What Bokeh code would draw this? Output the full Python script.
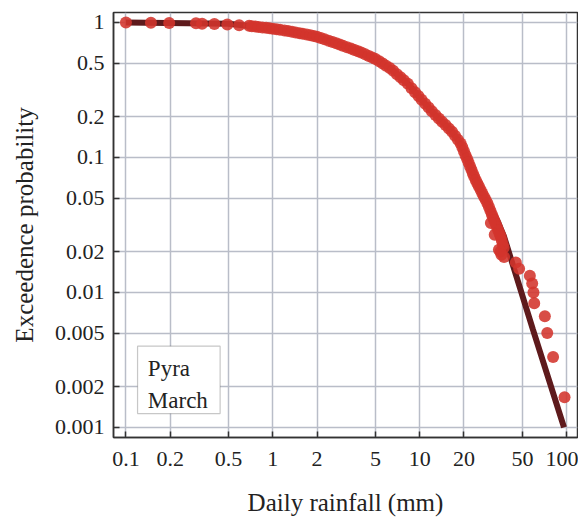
from bokeh.plotting import figure
from bokeh.models import Range1d, FixedTicker, CustomJSTickFormatter, BoxAnnotation, Label
from bokeh.embed import file_html
from bokeh.resources import INLINE

# Empirical exceedance points (daily rainfall mm, exceedance probability)
rain_mm = [0.1, 0.148, 0.197, 0.3, 0.33, 0.4, 0.49, 0.59, 0.69,
           0.72, 0.76, 0.8, 0.85, 0.9, 0.95, 1.0, 1.06, 1.12, 1.2, 1.27, 1.35, 1.43, 1.52,
           1.6, 1.7, 1.8, 1.9, 2.0, 2.12, 2.25, 2.4, 2.55, 2.7, 2.85, 3.0, 3.2, 3.4, 3.6,
           3.8, 4.0, 4.25, 4.5, 4.75, 5.0, 5.3, 5.6, 5.9, 6.25, 6.6, 7.0, 7.4, 7.8, 8.3,
           8.8, 9.3, 9.8, 10.3, 10.9, 11.5, 12.1, 12.8, 13.5, 14.2, 15.0, 15.8, 16.6, 17.4,
           18.2, 19.0, 19.5, 20.0, 20.5, 21.0, 21.5, 22.0, 22.5, 23.0, 23.5, 24.1, 24.7,
           25.3, 26.0, 26.7, 27.4, 28.1, 28.9, 29.6, 30.3, 31.0, 31.6, 32.2, 32.9, 33.6,
           34.3, 35.0, 35.6, 36.2, 36.8, 37.3,
           30.5, 32.4, 34.6, 35.4, 36.0,
           37.5, 45.1, 47.5, 56.2, 58.3, 59.5, 60.2, 71.1, 73.8, 80.9, 96.8]
exceed_p = [0.998, 0.995, 0.99, 0.985, 0.98, 0.975, 0.965, 0.955, 0.945,
            0.939, 0.933, 0.926, 0.919, 0.912, 0.905, 0.899, 0.890, 0.882, 0.872, 0.864,
            0.855, 0.844, 0.833, 0.823, 0.813, 0.803, 0.793, 0.784, 0.767, 0.751, 0.733,
            0.716, 0.700, 0.686, 0.672, 0.656, 0.640, 0.625, 0.611, 0.598, 0.581, 0.565,
            0.551, 0.537, 0.516, 0.496, 0.478, 0.459, 0.438, 0.414, 0.392, 0.373, 0.351,
            0.326, 0.304, 0.285, 0.268, 0.250, 0.234, 0.220, 0.206, 0.194, 0.184, 0.174,
            0.164, 0.155, 0.145, 0.135, 0.127, 0.119, 0.111, 0.104, 0.0977, 0.0917, 0.0860,
            0.0809, 0.0761, 0.0718, 0.0678, 0.0642, 0.0609, 0.0573, 0.0541, 0.0512, 0.0486,
            0.0457, 0.0429, 0.0402, 0.0378, 0.0359, 0.0341, 0.0322, 0.0304, 0.0287, 0.0271,
            0.0259, 0.0242, 0.0226, 0.0214,
            0.0327, 0.0267, 0.0207, 0.0200, 0.0190,
            0.0183, 0.01667, 0.0150, 0.0133, 0.01167, 0.0100, 0.00833, 0.00667, 0.0050,
            0.00333, 0.00167]

# Fitted distribution curve
fit_mm = [0.1, 0.5, 1.0, 2.0, 3.2, 5.0, 6.4, 8.3, 10.0, 12.5, 16.3, 19.0, 21.2, 23.5,
          26.0, 28.9, 33.8, 37.5, 59.0, 96.0]
fit_p = [1.0, 0.978, 0.899, 0.784, 0.656, 0.537, 0.452, 0.351, 0.278, 0.211, 0.159,
         0.127, 0.0953, 0.0718, 0.0573, 0.0457, 0.0340, 0.0259, 0.0053, 0.001]

x_ticks = [0.1, 0.2, 0.5, 1, 2, 5, 10, 20, 50, 100]
y_ticks = [0.001, 0.002, 0.005, 0.01, 0.02, 0.05, 0.1, 0.2, 0.5, 1]

SERIF = "Liberation Serif"
TEXT = "#222222"

p = figure(width=578, height=518, x_axis_type="log", y_axis_type="log",
           x_range=Range1d(0.0823, 118.6), y_range=Range1d(0.000842, 1.185),
           output_backend="svg", toolbar_location=None,
           min_border_left=113, min_border_right=1, min_border_top=12, min_border_bottom=80)

p.background_fill_color = "white"
p.border_fill_color = "white"
p.outline_line_color = "#333333"
p.outline_line_width = 1.5

fmt = CustomJSTickFormatter(code="return tick.toString();")
for ax, ticks in ((p.xaxis[0], x_ticks), (p.yaxis[0], y_ticks)):
    ax.ticker = FixedTicker(ticks=ticks, minor_ticks=[])
    ax.formatter = fmt
    ax.major_tick_in = 6
    ax.major_tick_out = 0
    ax.minor_tick_in = 0
    ax.minor_tick_out = 0
    ax.major_tick_line_color = "#333333"
    ax.major_tick_line_width = 1.5
    ax.axis_line_color = "#333333"
    ax.axis_line_width = 1.5
    ax.major_label_text_font = SERIF
    ax.major_label_text_font_size = "22px"
    ax.major_label_text_color = TEXT
    ax.axis_label_text_font = SERIF
    ax.axis_label_text_font_size = "25px"
    ax.axis_label_text_font_style = "normal"
    ax.axis_label_text_color = TEXT

p.xaxis.axis_label = "Daily rainfall (mm)"
p.yaxis.axis_label = "Exceedence probability"
p.xaxis.major_label_standoff = 14
p.xaxis.axis_label_standoff = 20
p.yaxis.major_label_standoff = 9
p.yaxis.axis_label_standoff = 14

p.xgrid.ticker = FixedTicker(ticks=x_ticks)
p.ygrid.ticker = FixedTicker(ticks=y_ticks)
p.grid.grid_line_color = "#b9bdc8"
p.grid.grid_line_width = 1.5

p.line(fit_mm, fit_p, line_color="#5e1a1c", line_width=6)
p.scatter(rain_mm, exceed_p, size=12, fill_color="#d3342c", fill_alpha=0.88,
          line_color=None)

box = BoxAnnotation(left=0.12, right=0.4377, bottom=0.001267, top=0.004,
                    fill_color="white", fill_alpha=1.0,
                    line_color="#444444", line_width=1.2)
p.add_layout(box)
p.add_layout(Label(x=0.141, y=0.00273, text="Pyra", text_font=SERIF,
                   text_font_size="23px", text_color=TEXT, text_baseline="alphabetic"))
p.add_layout(Label(x=0.141, y=0.00157, text="March", text_font=SERIF,
                   text_font_size="23px", text_color=TEXT, text_baseline="alphabetic"))

open("out.html", "w").write(file_html(p, INLINE))
